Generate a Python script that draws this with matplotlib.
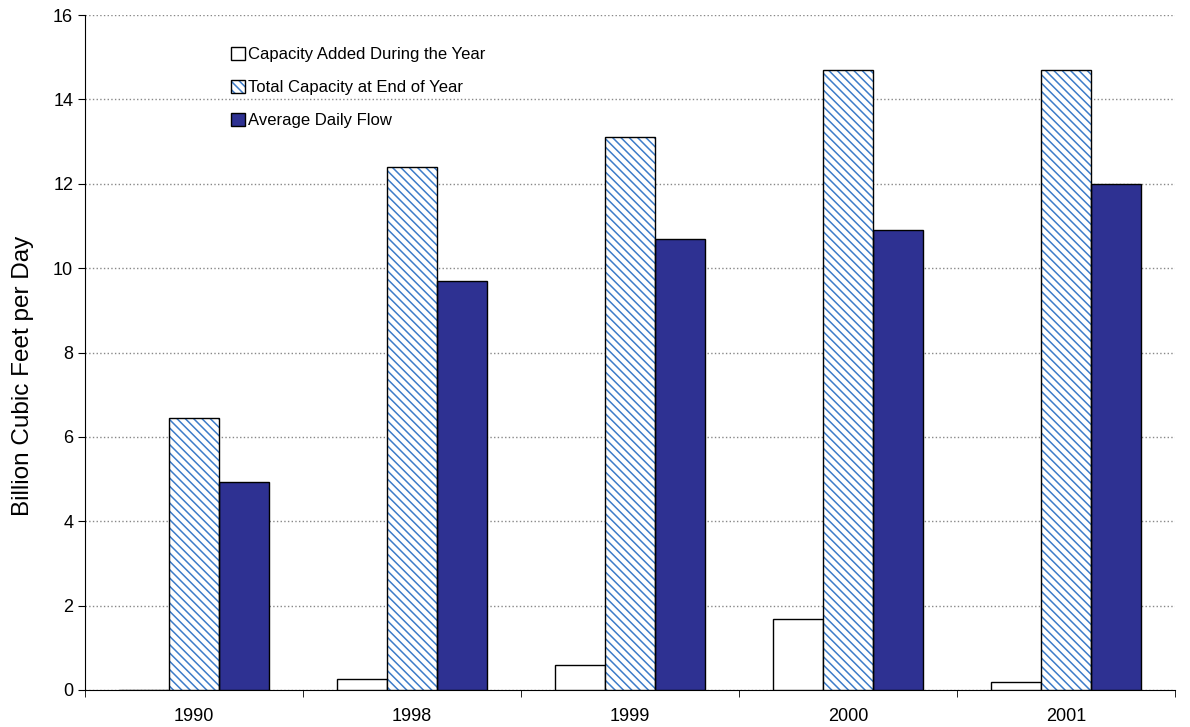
import matplotlib.pyplot as plt
import matplotlib.patches as mpatches
import numpy as np

plt.rcParams['font.family'] = ['Liberation Sans', 'DejaVu Sans']
plt.rcParams['hatch.linewidth'] = 1.1

years = ['1990', '1998', '1999', '2000', '2001']
added = [0, 0.25, 0.6, 1.68, 0.2]
total = [6.45, 12.4, 13.1, 14.7, 14.7]
flow = [4.93, 9.7, 10.7, 10.9, 12.0]

fig = plt.figure(figsize=(11.9, 7.27), dpi=100)
ax = fig.add_axes([85/1190, 37/727, 1090/1190, 675/727])

x = np.arange(len(years))
w = 0.23
hatch_col = '#3d7cc9'

b1 = ax.bar(x - w, added, w, color='white', edgecolor='black', linewidth=1, zorder=3)
# hatch takes the edge colour, so draw the outline as a second pass
ax.bar(x, total, w, color='white', edgecolor=hatch_col, hatch='\\\\\\\\',
       linewidth=0, zorder=3)
ax.bar(x, total, w, fill=False, edgecolor='black', linewidth=1, zorder=4)
b3 = ax.bar(x + w, flow, w, color='#2e3192', edgecolor='black', linewidth=1, zorder=3)

ax.set_xlim(-0.5, len(years) - 0.5)
ax.set_ylim(0, 16)
ax.set_yticks(range(0, 17, 2))
ax.set_xticks(x)
ax.set_xticklabels(years, fontsize=13)
ax.set_xticks(np.arange(-0.5, len(years)), minor=True)
ax.tick_params(axis='x', which='major', length=0, pad=13)
ax.tick_params(axis='x', which='minor', length=5, direction='out')
ax.tick_params(axis='y', labelsize=13, length=5, direction='out')
ax.yaxis.grid(True, linestyle=':', color='#888888', linewidth=1, zorder=0)
ax.spines['top'].set_visible(False)
ax.spines['right'].set_visible(False)
ax.set_ylabel('Billion Cubic Feet per Day', fontsize=17.5)
ax.yaxis.set_label_coords(-0.047, 0.465)

h_hatch = (mpatches.Patch(facecolor='white', edgecolor=hatch_col, hatch='\\\\\\\\', linewidth=0),
           mpatches.Patch(fill=False, edgecolor='black', linewidth=1))
ax.legend([b1, h_hatch, b3],
          ['Capacity Added During the Year', 'Total Capacity at End of Year', 'Average Daily Flow'],
          loc='upper left', bbox_to_anchor=(0.12, 0.975),
          frameon=False, fontsize=12, handlelength=0.85, handleheight=0.85,
          handletextpad=0.2, labelspacing=1.05)

fig.savefig('out.png')
